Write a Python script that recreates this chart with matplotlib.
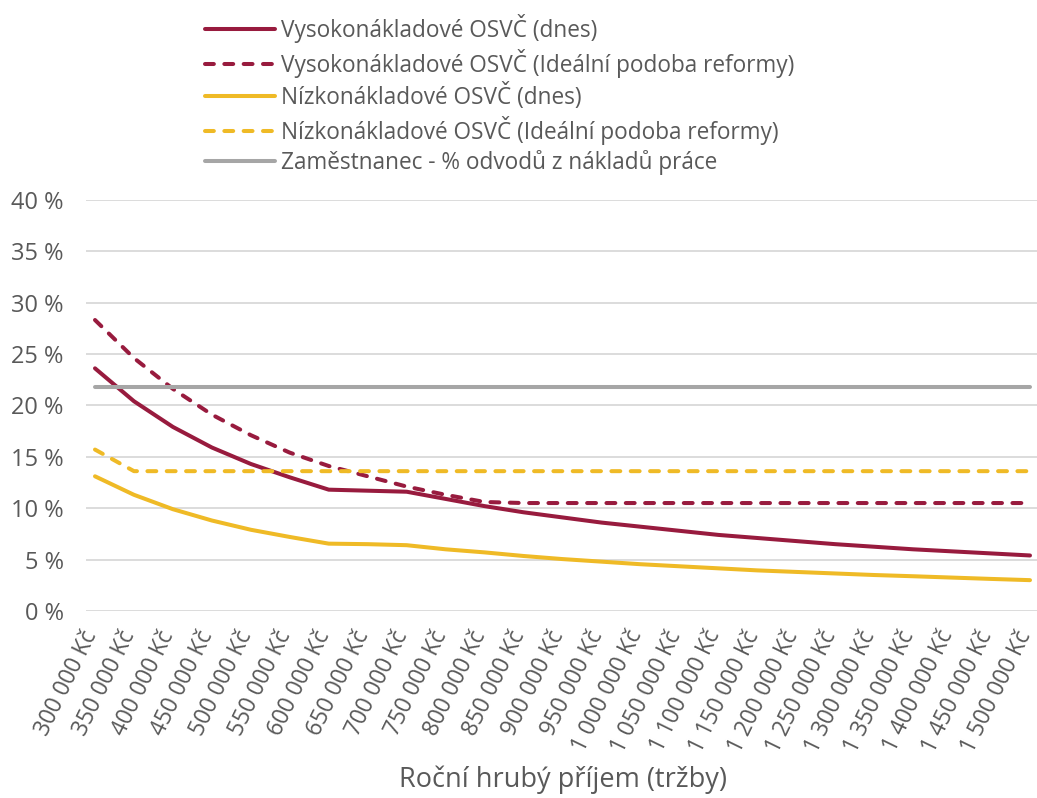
import matplotlib
matplotlib.use("Agg")
import matplotlib.pyplot as plt
import matplotlib.transforms as mtransforms
import numpy as np

plt.rcParams['font.family'] = ['Open Sans', 'DejaVu Sans']

categories = [f"{v:,} Kč".replace(",", " ") for v in range(300000, 1500001, 50000)]

vysoko_dnes = [23.6, 20.4, 17.9, 15.9, 14.3, 13.0, 11.8, 11.7, 11.6, 10.9, 10.2, 9.6, 9.1, 8.6,
               8.2, 7.8, 7.4, 7.1, 6.8, 6.5, 6.25, 6.0, 5.8, 5.6, 5.4]
vysoko_reforma = [28.3, 24.6, 21.6, 19.1, 17.1, 15.4, 14.1, 13.1, 12.1, 11.3, 10.6, 10.5, 10.5, 10.5,
                  10.5, 10.5, 10.5, 10.5, 10.5, 10.5, 10.5, 10.5, 10.5, 10.5, 10.5]
nizko_dnes = [13.1, 11.3, 9.9, 8.8, 7.9, 7.2, 6.55, 6.5, 6.4, 6.0, 5.7, 5.35, 5.05, 4.8,
              4.55, 4.35, 4.15, 3.95, 3.8, 3.65, 3.5, 3.38, 3.25, 3.12, 3.0]
nizko_reforma = [15.7, 13.6, 13.6, 13.6, 13.6, 13.6, 13.6, 13.6, 13.6, 13.6, 13.6, 13.6, 13.6, 13.6,
                 13.6, 13.6, 13.6, 13.6, 13.6, 13.6, 13.6, 13.6, 13.6, 13.6, 13.6]
zamestnanec = [21.8] * 25

yticks = [0, 5, 10, 15, 20, 25, 30, 35, 40]

RED = '#981B3E'
YEL = '#EFBA26'
GRAY = '#A6A6A6'
TXT = '#595959'

W, H = 1037, 798
fig = plt.figure(figsize=(W / 100, H / 100), dpi=100)
ax = fig.add_axes([86 / W, 1 - 611 / H, (W - 86) / W, (611 - 199.7) / H])

x = np.arange(len(categories))
lw = 2.9
dash = (2.2, 2.6)
ax.plot(x, vysoko_dnes, color=RED, lw=lw, solid_capstyle='round', label='Vysokonákladové OSVČ (dnes)')
ax.plot(x, vysoko_reforma, color=RED, lw=lw, dashes=dash, dash_capstyle='round',
        label='Vysokonákladové OSVČ (Ideální podoba reformy)')
ax.plot(x, nizko_dnes, color=YEL, lw=lw, solid_capstyle='round', label='Nízkonákladové OSVČ (dnes)')
ax.plot(x, nizko_reforma, color=YEL, lw=lw, dashes=dash, dash_capstyle='round',
        label='Nízkonákladové OSVČ (Ideální podoba reformy)')
ax.plot(x, zamestnanec, color=GRAY, lw=lw, solid_capstyle='round',
        label='Zaměstnanec - % odvodů z nákladů práce')

ax.set_ylim(0, 40)
ax.set_xlim(-9 / 38.96, 24 + 7 / 38.96)
ax.set_yticks(yticks)
ax.set_yticklabels([f"{t} %" for t in yticks])
ax.set_xticks(x)
ax.set_xticklabels(categories, rotation=64, ha='right', va='center', rotation_mode='anchor')
ax.tick_params(axis='y', length=0, pad=16, labelsize=17, labelcolor=TXT)
ax.tick_params(axis='x', length=0, pad=15, labelsize=16.3, labelcolor=TXT)
shift = mtransforms.ScaledTranslation(-4 / 100, 0, fig.dpi_scale_trans)
for lab in ax.get_xticklabels():
    lab.set_transform(lab.get_transform() + shift)
ax.grid(axis='y', color='#D9D9D9', lw=1.3)
ax.set_axisbelow(True)
for s in ax.spines.values():
    s.set_visible(False)

fig.text(563 / W, 1 - 780 / H, 'Roční hrubý příjem (tržby)', ha='center', va='center',
         fontsize=19.5, color=TXT)

leg = fig.legend(loc='upper left', bbox_to_anchor=(205 / W, 1 - 14 / H), frameon=False,
                 fontsize=16.3, handlelength=3.1, handletextpad=0.25, labelspacing=0.245,
                 borderaxespad=0, borderpad=0)
for t in leg.get_texts():
    t.set_color(TXT)

fig.savefig('out.png', dpi=100)
